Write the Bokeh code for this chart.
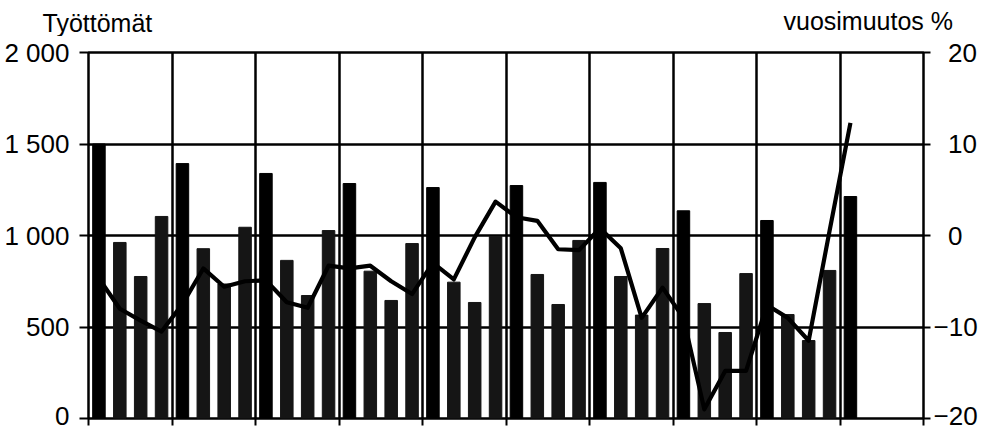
from bokeh.plotting import figure
from bokeh.models import Range1d, LinearAxis, FixedTicker, ColumnDataSource
from bokeh.layouts import column
from bokeh.core.properties import value
from bokeh.embed import file_html
from bokeh.resources import INLINE

# Unemployed persons per quarter (left axis)
unemployed = [1500, 962, 776, 1104,
              1393, 928, 735, 1045,
              1339, 864, 672, 1027,
              1284, 805, 645, 956,
              1262, 745, 634, 995,
              1273, 787, 623, 973,
              1290, 776, 565, 929,
              1135, 628, 470, 792,
              1082, 568, 426, 809,
              1213]
# Year-on-year change, % (right axis)
change_pct = [-4.7, -8.0, -9.3, -10.5,
              -7.5, -3.6, -5.6, -5.0,
              -4.9, -7.3, -7.9, -3.3,
              -3.6, -3.3, -5.0, -6.4,
              -3.0, -4.8, -0.2, 3.7,
              2.0, 1.6, -1.5, -1.6,
              0.8, -1.4, -9.0, -5.7,
              -9.0, -19.0, -14.8, -14.8,
              -7.6, -9.0, -11.5, 0.5,
              12.3]
quarter_of_year = ["I", "II", "III", "IV"]
n_years = 10

left_ticks = [0, 500, 1000, 1500, 2000]
left_labels = ["0", "500", "1 000", "1 500", "2 000"]
right_ticks = [-20, -10, 0, 10, 20]
right_labels = ["\u221220", "\u221210", "\u20070", "\u200710", "\u200720"]
axis_titles = ["Työttömät", "vuosimuutos %"]

idx = list(range(len(unemployed)))
qlab = [quarter_of_year[i % 4] for i in idx]
colors = ["#000000" if q == "I" else "#151515" for q in qlab]
src = ColumnDataSource(dict(x=idx, y=unemployed, q=qlab, c=colors))
line_src = ColumnDataSource(dict(x=idx, y=change_pct))

year_bounds = [4 * k - 0.5 for k in range(n_years + 1)]

FONT = "Liberation Sans"
HEAD_H = 36

# ---- header strip holding the two axis titles ----
head = figure(width=982, height=HEAD_H, output_backend="svg", toolbar_location=None,
              x_range=Range1d(0, 982), y_range=Range1d(HEAD_H, 0),
              min_border=0, min_border_left=0, min_border_right=0,
              min_border_top=0, min_border_bottom=0)
if "frame_align" in head.properties():
    head.frame_align = False
head.axis.visible = False
head.grid.visible = False
head.outline_line_color = None
head.background_fill_color = "white"
head.border_fill_color = "white"
head.text(x=[42, 783], y=[22, 20], text=axis_titles, text_baseline="alphabetic",
          text_align="left", text_font=value(FONT), text_font_size=value("25px"),
          text_color="black")

# ---- main chart ----
p = figure(width=982, height=430 - HEAD_H, output_backend="svg", toolbar_location=None,
           x_range=Range1d(-0.5, 4 * n_years - 0.5), y_range=Range1d(0, 2000),
           min_border_left=88, min_border_right=59, min_border_top=52 - HEAD_H,
           min_border_bottom=12)
p.extra_y_ranges = {"pct": Range1d(-20, 20)}
p.background_fill_color = "white"
p.border_fill_color = "white"
p.outline_line_color = "black"
p.outline_line_width = 2.5

p.vbar(x="x", top="y", width=0.6, fill_color="c", line_color="c", source=src)
p.line(x="x", y="y", y_range_name="pct", line_color="black", line_width=4.2,
       line_join="round", source=line_src)

# grids
p.ygrid.ticker = FixedTicker(ticks=left_ticks)
p.ygrid.grid_line_color = "black"
p.ygrid.grid_line_width = 2.5
p.xgrid.ticker = FixedTicker(ticks=year_bounds)
p.xgrid.grid_line_color = "black"
p.xgrid.grid_line_width = 2.5

# left axis
ya = p.yaxis[0]
ya.ticker = FixedTicker(ticks=left_ticks)
ya.major_label_overrides = {t: l for t, l in zip(left_ticks, left_labels)}
ya.major_label_text_font = FONT
ya.major_label_text_font_size = "26px"
ya.major_label_text_color = "black"
ya.major_tick_out = 9
ya.major_tick_in = 0
ya.major_tick_line_width = 2
ya.minor_tick_line_color = None
ya.axis_line_color = None
ya.major_label_standoff = 10

# right axis
ra = LinearAxis(y_range_name="pct", ticker=FixedTicker(ticks=right_ticks))
ra.major_label_overrides = {t: l for t, l in zip(right_ticks, right_labels)}
ra.major_label_text_font = FONT
ra.major_label_text_font_size = "26px"
ra.major_label_text_color = "black"
ra.major_tick_out = 7
ra.major_tick_in = 0
ra.major_tick_line_width = 2
ra.minor_tick_line_color = None
ra.axis_line_color = None
ra.major_label_standoff = 3
p.add_layout(ra, "right")

# bottom axis: only year-boundary tick marks (as minor ticks, no labels)
xa = p.xaxis[0]
xa.ticker = FixedTicker(ticks=[], minor_ticks=year_bounds)
xa.major_tick_line_color = None
xa.minor_tick_out = 7
xa.minor_tick_in = 0
xa.minor_tick_line_width = 2
xa.minor_tick_line_color = "black"
xa.axis_line_color = None

layout = column(head, p, spacing=0)
open("out.html", "w").write(file_html(layout, INLINE))
